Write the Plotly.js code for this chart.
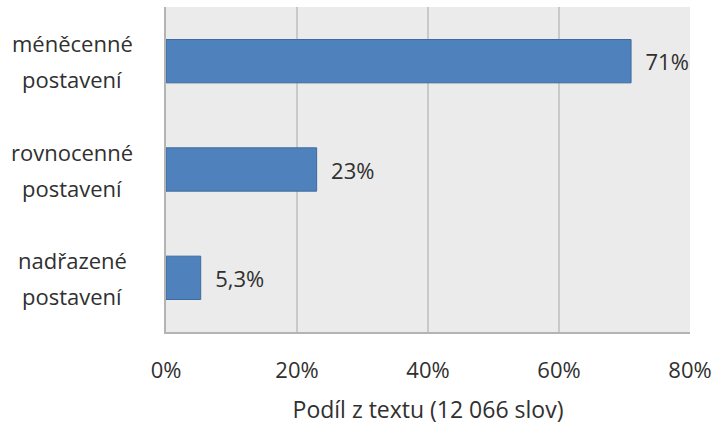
<!DOCTYPE html>
<html><head><meta charset="utf-8">
<script src="https://cdn.plot.ly/plotly-3.0.1.min.js"></script>
<style>body{margin:0;background:#fff}#c{width:717px;height:427px}</style>
</head><body><div id="c"></div>
<script>
const categories = ["nadřazené<br>postavení", "rovnocenné<br>postavení", "méněcenné<br>postavení"];
const values = [5.3, 23, 71];
const valueLabels = ["5,3%", "23%", "71%"];
const tickVals = [0, 20, 40, 60, 80];
const tickLabels = ["0%", "20%", "40%", "60%", "80%"];
const xTitle = "Podíl z textu (12 066 slov)";

const font = "Open Sans, Noto Sans, sans-serif";
const col = "#303030";
const pad = "\u00a0\u00a0";
const annotations = [];
categories.forEach(c => {
  c.split("<br>").forEach((line, i, arr) => {
    annotations.push({
      text: line, x: -0.179, xref: "paper", y: c, yref: "y", showarrow: false,
      xanchor: "center", yanchor: "middle", yshift: (arr.length - 1) / 2 * 36 - i * 36,
      font: {family: font, size: 22, color: col}
    });
  });
});
Plotly.newPlot("c", [{
  type: "bar", orientation: "h",
  x: values, y: categories,
  text: valueLabels.map(t => pad + t), textposition: "outside", cliponaxis: false,
  textfont: {family: font, size: 22, color: col},
  marker: {color: "#4f81bd", line: {color: "#3d6b9e", width: 1}},
  hoverinfo: "none"
}], {
  width: 717, height: 427,
  margin: {l: 166, r: 27, t: 7, b: 95},
  paper_bgcolor: "#ffffff", plot_bgcolor: "#ebebeb",
  bargap: 0.6, showlegend: false,
  font: {family: font, size: 22, color: col},
  annotations: annotations,
  xaxis: {
    range: [0, 80], tickvals: tickVals, ticktext: tickLabels,
    showgrid: true, gridcolor: "#c9c9c9", gridwidth: 1.5,
    zeroline: false, showline: true, linecolor: "#b4b4b4", linewidth: 2,
    ticks: "", ticklabelstandoff: 18,
    tickfont: {family: font, size: 22, color: col},
    title: {text: xTitle, font: {family: font, size: 23, color: col}, standoff: 18},
    fixedrange: true
  },
  yaxis: {
    showgrid: false, zeroline: false, showline: true, linecolor: "#b4b4b4", linewidth: 2,
    showticklabels: false, ticks: "",
    fixedrange: true
  }
}, {displayModeBar: false, staticPlot: true});
</script></body></html>
